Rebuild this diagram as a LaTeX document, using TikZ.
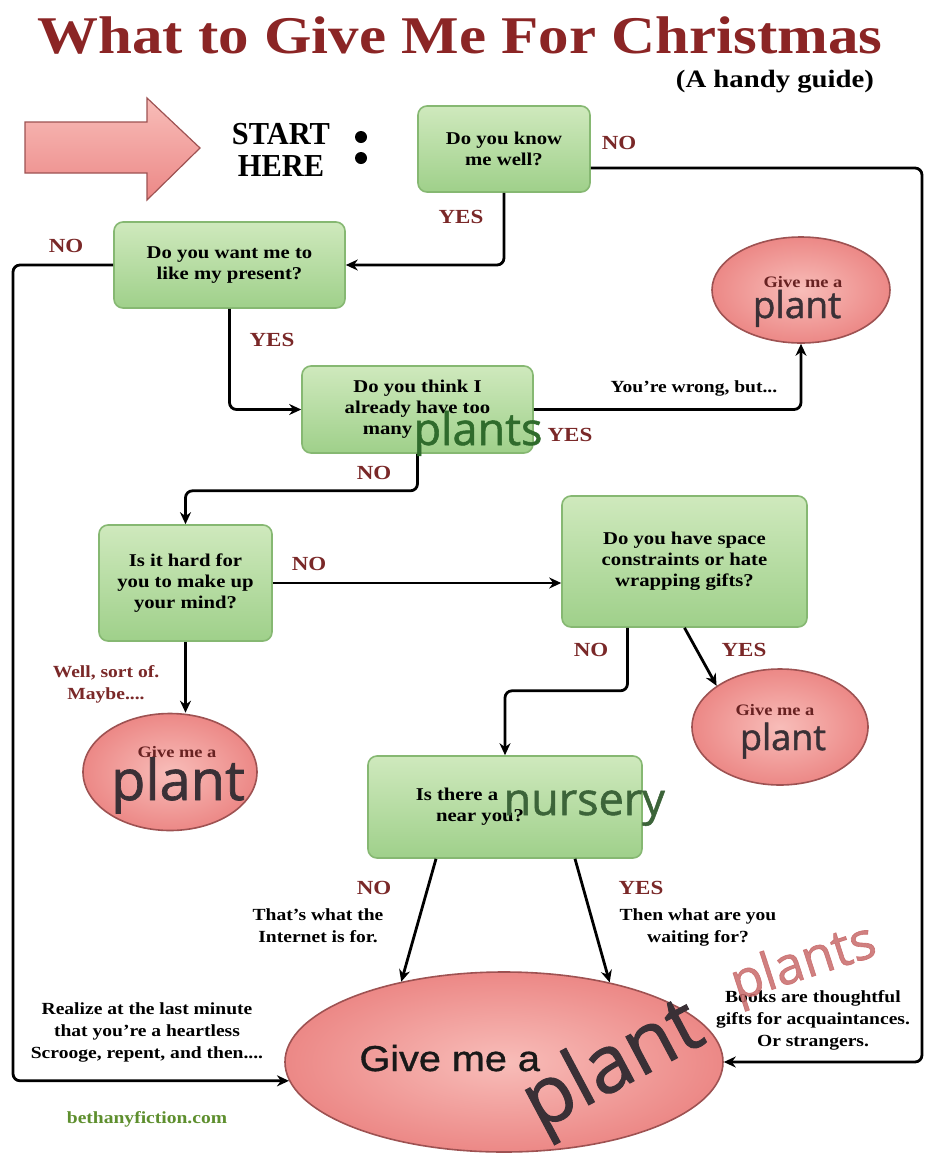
\documentclass[tikz,border=0pt]{standalone}
\usepackage{fontspec}
\setmainfont{Liberation Serif}[FakeStretch=1.15]
\newfontfamily\startfont{Liberation Serif}[FakeStretch=0.95]
\newfontfamily\plantfont{Open Sans}[FakeBold=1.2]
\newfontfamily\giftfont{Liberation Sans}[FakeStretch=1.1,FakeBold=1]
\usetikzlibrary{shapes.geometric,arrows.meta}
\definecolor{titlered}{HTML}{8B2525}
\definecolor{labelred}{HTML}{7A2828}
\definecolor{boxtop}{HTML}{CFE9BD}
\definecolor{boxbottom}{HTML}{9FD08A}
\definecolor{boxline}{HTML}{86B872}
\definecolor{giftin}{HTML}{F8BDB9}
\definecolor{giftout}{HTML}{EC8886}
\definecolor{giftline}{HTML}{9E5252}
\definecolor{plantgrey}{HTML}{3A3036}
\definecolor{plantgreen}{HTML}{2F6B2C}
\definecolor{nurserygreen}{HTML}{3C6439}
\definecolor{plantred}{HTML}{C86A6A}
\definecolor{webgreen}{HTML}{5E8F2E}
\begin{document}
\begin{tikzpicture}[x=1pt,y=-1pt]
  %% Styles for the chart
  \tikzset
  {
  question/.style={rectangle, rounded corners=9pt, draw=boxline, line width=1.6pt, top color=boxtop, bottom color=boxbottom, align=center, font=\bfseries\fontsize{18}{21}\selectfont, inner sep=0pt},
  gift/.style={ellipse, draw=giftline, line width=1.6pt, inner color=giftin, outer color=giftout, inner sep=0pt},
  flow/.style={line width=2.8pt, rounded corners=7pt, -{Stealth[length=12pt,width=11pt]}},
  answer/.style={font=\bfseries\fontsize{20}{22}\selectfont, text=labelred},
  remark/.style={font=\bfseries\fontsize{17}{22}\selectfont, align=center},
  giveme/.style={font=\bfseries\fontsize{16}{18}\selectfont, text=labelred!85!black},
  plant/.style={font=\plantfont, text=plantgrey},
  }
  \useasboundingbox[fill=white] (0,0) rectangle (924,1157);
  %% Title
  \node[font=\bfseries\fontsize{53}{58}\selectfont, text=titlered] (title) at (460,36) {What to Give Me For Christmas};
  \node[font=\bfseries\fontsize{25}{28}\selectfont] (guide) at (775,82) {(A handy guide)};
  %% Start arrow
  \path[draw=giftline, line width=1.2pt, top color=giftin, bottom color=giftout]
    (25,122) -- (147,122) -- (147,98) -- (200,148) -- (147,200) -- (147,173) -- (25,173) -- cycle;
  \node[font=\startfont\bfseries\fontsize{32}{32}\selectfont, align=center] (start) at (281,150) {START\\HERE};
  \fill (361,137) circle (6) (361,158) circle (6);
  %% Questions
  \node[question, minimum width=172pt, minimum height=86pt] (q1) at (504,149) {Do you know\\ me well?};
  \node[question, minimum width=231pt, minimum height=86pt] (q2) at (229.5,265) {Do you want me to\\ like my present?};
  \node[question, minimum width=231pt, minimum height=87pt] (q3) at (417.5,409.5) {Do you think I\\ already have too\\ many\rule{60pt}{0pt}};
  \node[question, minimum width=173pt, minimum height=116pt] (q4) at (185.5,583) {Is it hard for\\ you to make up\\ your mind?};
  \node[question, minimum width=245pt, minimum height=131pt] (q5) at (684.5,561.5) {Do you have space\\ constraints or hate\\ wrapping gifts?};
  \node[question, minimum width=274pt, minimum height=102pt] (q6) at (505,807) {Is there a\rule{96pt}{0pt}\\ near you?\rule{50pt}{0pt}};
  %% Answers
  \node[gift, minimum width=178pt, minimum height=106pt] (gift1) at (801,290) {};
  \node[gift, minimum width=176pt, minimum height=116pt] (gift2) at (780,727) {};
  \node[gift, minimum width=174pt, minimum height=117pt] (gift3) at (170,772) {};
  \node[gift, minimum width=438pt, minimum height=180pt] (giftbig) at (504,1062) {};
  \node[giveme] (give1) at (803,282) {Give me a};
  \node[giveme] (give2) at (775,710) {Give me a};
  \node[giveme] (give3) at (177,752) {Give me a};
  \node[plant, anchor=base, font=\plantfont\fontsize{37}{40}\selectfont] (plant1) at (797,318) {plant};
  \node[plant, anchor=base, font=\plantfont\fontsize{36}{40}\selectfont] (plant2) at (783,750) {plant};
  \node[plant, anchor=base, font=\plantfont\fontsize{56}{60}\selectfont] (plant3) at (178,800) {plant};
  \node[anchor=base west, font=\giftfont\fontsize{36}{40}\selectfont, text=black!90] (givebig) at (356,1071) {Give me a};
  %% Rails
  \coordinate (rightrail) at (922,0);
  \coordinate (leftrail) at (13,0);
  %% Connectors
  \draw[flow] ([yshift=-19pt]q1.east) -| (rightrail |- giftbig.east) -- (giftbig.east);
  \draw[flow] (q1.south) |- (q2.east);
  \draw[flow] (q2.west) -| (leftrail |- giftbig.185) -- (giftbig.185);
  \draw[flow] (q2.south) |- (q3.west);
  \draw[flow] (q3.east) -| (gift1.south);
  \draw[flow] (q3.south) -- ++(0,37) -| (q4.north);
  \draw[flow] (q4.east) -- (q4.east -| q5.west);
  \draw[flow] (q4.south) -- (q4.south |- gift3.north);
  \draw[flow] ([xshift=-57pt]q5.south) -- ++(0,63) -| (q6.north);
  \draw[flow] (q5.south) -- (gift2.147);
  \draw[flow] ([xshift=-69pt]q6.south) -- (giftbig.142);
  \draw[flow] ([xshift=70pt]q6.south) -- (giftbig.37);
  %% Labels
  \node[answer] (no1) at (619,143) {NO};
  \node[answer] (yes1) at (461,217) {YES};
  \node[answer] (no2) at (66,246) {NO};
  \node[answer] (yes2) at (272,340) {YES};
  \node[font=\bfseries\fontsize{17}{20}\selectfont] (wrong) at (694,388) {You're wrong, but...};
  \node[answer] (yes3) at (570,435) {YES};
  \node[answer] (no3) at (374,473) {NO};
  \node[answer] (no4) at (309,564) {NO};
  \node[remark, text=labelred] (sortof) at (106,684) {Well, sort of.\\ Maybe....};
  \node[answer] (no5) at (591,650) {NO};
  \node[answer] (yes5) at (744,650) {YES};
  \node[answer] (no6) at (374,888) {NO};
  \node[remark] (internet) at (318,926) {That's what the\\ Internet is for.};
  \node[answer] (yes6) at (641,888) {YES};
  \node[remark] (waiting) at (698,927) {Then what are you\\ waiting for?};
  \node[remark] (scrooge) at (147,1032) {Realize at the last minute\\ that you're a heartless\\ Scrooge, repent, and then....};
  \node[remark] (books) at (813,1020) {Books are thoughtful\\ gifts for acquaintances.\\ Or strangers.};
  \node[font=\bfseries\fontsize{17}{20}\selectfont, text=webgreen] (web) at (147,1119) {bethanyfiction.com};
  %% Overlaid words
  \node[anchor=base west, font=\plantfont\fontsize{45}{50}\selectfont, text=plantgreen] (plants3) at (410,445) {plants};
  \node[anchor=base west, font=\plantfont\fontsize{45}{50}\selectfont, text=nurserygreen] (nursery) at (500,815) {nursery};
  \node[plant, rotate=18, font=\plantfont\fontsize{52}{56}\selectfont, text=plantred, opacity=0.85] (plantsred) at (804,965) {plants};
  \node[plant, rotate=28, font=\plantfont\fontsize{80}{84}\selectfont] (plantbig) at (614,1068) {plant};
\end{tikzpicture}
\end{document}
